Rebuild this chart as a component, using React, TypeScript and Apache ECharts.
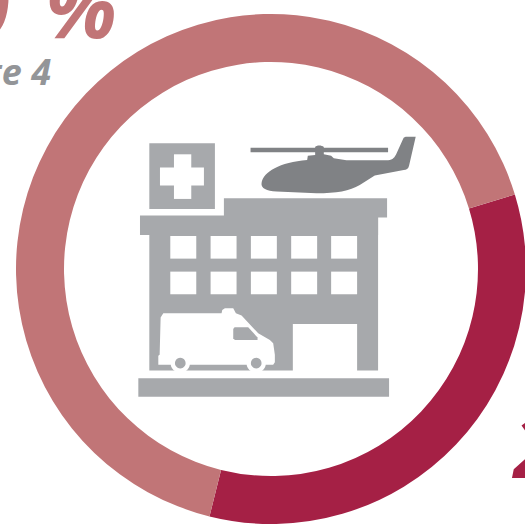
import React, { useEffect, useRef } from "react";
import * as echarts from "echarts";

const shareNames = ["Dark share", "Light share"];
const shareValues = [33.6, 66.4];
const shareColors = ["#A52045", "#C17577"];
const windowXs = [121, 242, 363, 484, 604];
const windowYs = [33, 140];
const wheelXs = [151, 379];

const GREY = "#A7A9AC";
const HELI = "#808285";

const ambulanceBody = "M85 420 L85 393 L89 390 L92 278 L100 265 L275 265 L277 255 L285 250 L310 250 L318 265 L335 272 L385 325 L420 345 L430 355 L435 390 L435 412 L430 420 Z";
const ambulanceGlass = "M310 312 L314 307 L355 307 L383 338 L383 345 L315 345 L310 340 Z";
const helicopterBody = "M395 175 C400 140 450 112 532 105 L534 92 L556 90 L556 66 C560 60 576 60 582 66 L582 88 L604 92 L612 100 L650 106 L775 106 C790 104 795 96 800 86 L820 42 C822 36 826 35 832 35 L858 35 L838 122 C836 131 830 134 822 135 L735 152 L690 180 C660 198 620 205 560 205 L440 200 C410 198 393 190 395 175 Z";

echarts.graphic.registerShape("ambulanceBody", echarts.graphic.extendPath(ambulanceBody, {}));
echarts.graphic.registerShape("ambulanceGlass", echarts.graphic.extendPath(ambulanceGlass, {}));
echarts.graphic.registerShape("helicopterBody", echarts.graphic.extendPath(helicopterBody, {}));

function rect(x: number, y: number, width: number, height: number, fill: string) {
  return { type: "rect", silent: true, shape: { x, y, width, height }, style: { fill } };
}

function buildingIcon() {
  const windows = windowYs.flatMap((wy) => windowXs.map((wx) => rect(wx, wy, 78, 68, "#fff")));
  const wheels = wheelXs.flatMap((cx) => [
    { type: "circle", silent: true, shape: { cx, cy: 415, r: 29 }, style: { fill: "#fff" } },
    { type: "circle", silent: true, shape: { cx, cy: 415, r: 16 }, style: { fill: GREY } },
  ]);
  return [
    {
      type: "group", x: 130, y: 225, scaleX: 1 / 3, scaleY: 1 / 3, silent: true,
      children: [
        rect(58, -27, 687, 464, GREY),
        rect(25, 460, 753, 56, GREY),
        ...windows,
        rect(489, 297, 193, 146, "#fff"),
        { type: "ambulanceBody", x: 0, y: 0, silent: true, style: { fill: "#fff" } },
        { type: "ambulanceGlass", x: 0, y: 0, silent: true, style: { fill: GREY } },
        ...wheels,
      ],
    },
    {
      type: "group", x: 130, y: 125, scaleX: 1 / 3, scaleY: 1 / 3, silent: true,
      children: [
        rect(58, 55, 197, 197, GREY),
        rect(90, 128, 132, 54, "#fff"),
        rect(132, 88, 52, 134, "#fff"),
        rect(282, 220, 490, 58, GREY),
        rect(30, 272, 715, 58, GREY),
        rect(362, 68, 413, 14, HELI),
        { type: "helicopterBody", x: 0, y: 0, silent: true, style: { fill: HELI } },
      ],
    },
  ];
}

const labelFont = { fontFamily: "'Open Sans', sans-serif", fontStyle: "italic", fontWeight: 700 };

export default function App() {
  const ref = useRef<HTMLDivElement>(null);
  useEffect(() => {
    const chart = echarts.init(ref.current!, undefined, { renderer: "svg" });
    chart.setOption({
      animation: false,
      backgroundColor: "#fff",
      series: [
        {
          type: "pie",
          silent: true,
          center: [271, 269],
          radius: [207, 255],
          startAngle: 17,
          clockwise: true,
          label: { show: false },
          labelLine: { show: false },
          itemStyle: { borderWidth: 0 },
          data: shareNames.map((name, i) => ({
            name,
            value: shareValues[i],
            itemStyle: { color: shareColors[i] },
          })),
        },
      ],
      graphic: [
        ...buildingIcon(),
        {
          type: "text", x: 117, y: -37, silent: true,
          style: { ...labelFont, text: "70\u00A0\u2009%", fill: "#C17577", fontSize: 84, textAlign: "right" },
        },
        {
          type: "text", x: 51, y: 53, silent: true,
          style: { ...labelFont, text: "Note\u00A04", fill: "#939598", fontSize: 36, textAlign: "right" },
        },
        {
          type: "text", x: 514, y: 403, silent: true,
          style: { ...labelFont, text: "2", fill: "#A52045", fontSize: 84, textAlign: "left" },
        },
      ],
    });
    return () => chart.dispose();
  }, []);
  return <div ref={ref} style={{ position: "absolute", left: 0, top: 0, width: 525, height: 526, overflow: "hidden" }} />;
}
